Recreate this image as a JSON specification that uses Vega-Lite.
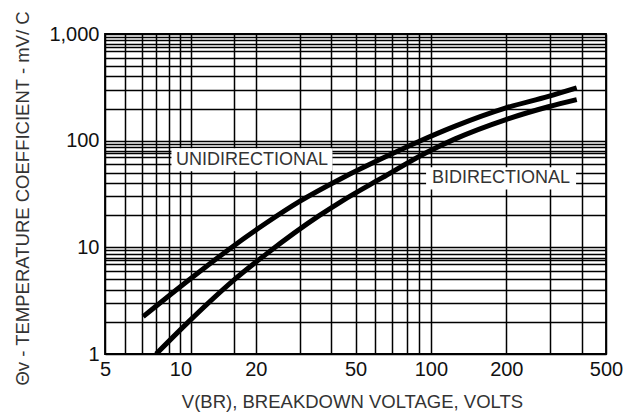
{
  "$schema": "https://vega.github.io/schema/vega-lite/v6.json",
  "width": 501,
  "height": 320,
  "autosize": {"type": "none"},
  "padding": {"left": 105, "top": 34, "right": 31, "bottom": 64},
  "background": "white",
  "config": {"view": {"stroke": "#000", "strokeWidth": 1.8}, "font": "Liberation Sans"},
  "datasets": {
    "curves": [
      {"series": "uni", "v": 7.1, "tc": 2.24},
      {"series": "uni", "v": 11, "tc": 5.1},
      {"series": "uni", "v": 16.2, "tc": 10.2},
      {"series": "uni", "v": 22, "tc": 16.9},
      {"series": "uni", "v": 29.8, "tc": 26.8},
      {"series": "uni", "v": 44.3, "tc": 44.7},
      {"series": "uni", "v": 64, "tc": 68.3},
      {"series": "uni", "v": 89.5, "tc": 98.3},
      {"series": "uni", "v": 125, "tc": 137},
      {"series": "uni", "v": 198, "tc": 202},
      {"series": "uni", "v": 294.5, "tc": 260},
      {"series": "uni", "v": 382, "tc": 312},
      {"series": "bi", "v": 8.0, "tc": 1.0},
      {"series": "bi", "v": 11, "tc": 2.1},
      {"series": "bi", "v": 16.2, "tc": 4.85},
      {"series": "bi", "v": 22, "tc": 8.64},
      {"series": "bi", "v": 35.8, "tc": 19.8},
      {"series": "bi", "v": 44.3, "tc": 27.3},
      {"series": "bi", "v": 64, "tc": 45},
      {"series": "bi", "v": 96.1, "tc": 77.5},
      {"series": "bi", "v": 125, "tc": 104},
      {"series": "bi", "v": 198, "tc": 157},
      {"series": "bi", "v": 294.5, "tc": 208},
      {"series": "bi", "v": 382, "tc": 243}
    ],
    "labels": [
      {"label": "UNIDIRECTIONAL", "v": 19.3, "tc": 66.2},
      {"label": "BIDIRECTIONAL", "v": 190.6, "tc": 44.3}
    ]
  },
  "encoding": {
    "x": {
      "field": "v",
      "type": "quantitative",
      "scale": {"type": "log", "domain": [5, 500], "nice": false},
      "axis": {
        "title": "V(BR), BREAKDOWN VOLTAGE, VOLTS",
        "values": [5, 6, 7, 8, 9, 10, 11, 16.3, 20, 30, 40, 50, 60, 70, 80, 90, 100, 200, 300, 400, 500],
        "labelExpr": "indexof([5,10,20,50,100,200,500], datum.value) >= 0 ? format(datum.value, ',') : ''",
        "grid": true,
        "gridColor": "#000",
        "gridWidth": 1.5,
        "gridOpacity": 1,
        "domain": false,
        "ticks": false,
        "labelFont": "Liberation Sans",
        "labelFontSize": 20,
        "labelColor": "#111",
        "labelPadding": 5,
        "labelFlush": false,
        "labelOverlap": false,
        "titleFont": "Liberation Sans",
        "titleFontSize": 18.5,
        "titleFontWeight": "normal",
        "titleColor": "#333",
        "titleX": 247,
        "titleY": 47,
        "titleBaseline": "middle",
        "titleAlign": "center"
      }
    },
    "y": {
      "field": "tc",
      "type": "quantitative",
      "scale": {"type": "log", "domain": [1, 1000], "nice": false},
      "axis": {
        "title": "Θv - TEMPERATURE COEFFICIENT - mV/ C",
        "values": [1, 2, 3, 4, 5, 6, 7, 7.6, 8, 8.7, 9.4, 10, 20, 30, 40, 50, 60, 70, 76, 80, 87, 94, 100, 200, 300, 400, 500, 600, 700, 760, 800, 870, 940, 1000],
        "labelExpr": "indexof([1,10,100,1000], datum.value) >= 0 ? format(datum.value, ',') : ''",
        "grid": true,
        "gridColor": "#000",
        "gridWidth": 1.5,
        "gridOpacity": 1,
        "domain": false,
        "ticks": false,
        "labelFont": "Liberation Sans",
        "labelFontSize": 20,
        "labelColor": "#111",
        "labelPadding": 6,
        "labelFlush": false,
        "labelOverlap": false,
        "titleFont": "Liberation Sans",
        "titleFontSize": 18.5,
        "titleFontWeight": "normal",
        "titleColor": "#333",
        "titleAngle": 270,
        "titleX": -82.5,
        "titleY": 164,
        "titleBaseline": "middle",
        "titleAlign": "center"
      }
    }
  },
  "layer": [
    {
      "data": {"name": "curves"},
      "mark": {"type": "line", "color": "#000", "strokeWidth": 5, "interpolate": "monotone", "clip": true},
      "encoding": {"detail": {"field": "series"}}
    },
    {
      "data": {"name": "labels"},
      "transform": [{"filter": "datum.label === 'UNIDIRECTIONAL'"}],
      "mark": {"type": "point", "shape": "M-1,-0.143L1,-0.143L1,0.143L-1,0.143Z", "size": 25921, "filled": true, "color": "#fff", "opacity": 1, "strokeWidth": 0}
    },
    {
      "data": {"name": "labels"},
      "transform": [{"filter": "datum.label === 'BIDIRECTIONAL'"}],
      "mark": {"type": "point", "shape": "M-1,-0.147L1,-0.147L1,0.147L-1,0.147Z", "size": 22500, "filled": true, "color": "#fff", "opacity": 1, "strokeWidth": 0}
    },
    {
      "data": {"name": "labels"},
      "mark": {"type": "text", "font": "Liberation Sans", "fontSize": 18, "color": "#333", "align": "center", "baseline": "middle"},
      "encoding": {"text": {"field": "label"}}
    }
  ]
}
